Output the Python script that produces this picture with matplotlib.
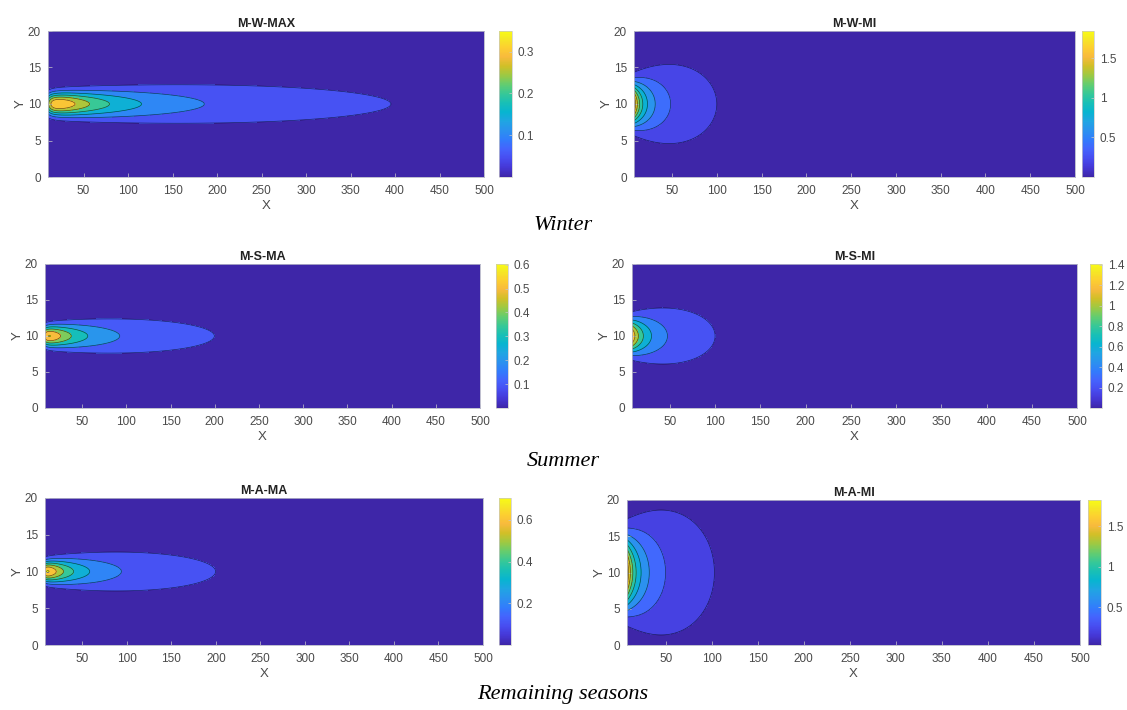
import numpy as np
import matplotlib
matplotlib.use("Agg")
import matplotlib.pyplot as plt
from matplotlib.colors import LinearSegmentedColormap, Normalize
from matplotlib.cm import ScalarMappable
from matplotlib.ticker import FormatStrFormatter

plt.rcParams['font.family'] = ['Liberation Sans', 'DejaVu Sans']

# parula, every 4th entry of the 64 colour table
parula_idx = [0, 4, 8, 12, 16, 20, 24, 28, 32, 36, 40, 44, 48, 52, 56, 60, 63]
parula_rgb = [
    (0.2422, 0.1504, 0.6603), (0.2706, 0.2147, 0.8364), (0.2813, 0.3006, 0.9414),
    (0.2699, 0.3892, 0.9906), (0.1963, 0.4847, 0.9892), (0.1687, 0.5703, 0.9359),
    (0.1248, 0.6459, 0.8883), (0.0297, 0.7082, 0.8163), (0.0964, 0.7500, 0.7120),
    (0.2161, 0.7843, 0.5923), (0.3909, 0.8029, 0.4354), (0.6174, 0.7876, 0.2612),
    (0.8203, 0.7498, 0.1535), (0.9728, 0.7298, 0.2394), (0.9892, 0.8136, 0.1885),
    (0.9597, 0.9135, 0.1423), (0.9769, 0.9839, 0.0805)]
parula = LinearSegmentedColormap.from_list(
    'parula', [(i / 63, c) for i, c in zip(parula_idx, parula_rgb)])

titles = ['M-W-MAX', 'M-W-MI', 'M-S-MA', 'M-S-MI', 'M-A-MA', 'M-A-MI']
captions = ['Winter', 'Summer', 'Remaining seasons']

# plume: centreline k/x*exp(-c/x), crosswind sigma = s0 + s1*x
x_start = [10, 7.5, 8, 8, 8, 8]
plume_k = [20.9, 20.6, 21.3, 21.0, 21.1, 21.2]
plume_c = [22, 3, 13, 5, 11, 3]
sigma0 = [1.0, 1.6, 0.9, 1.375, 0.9, 2.8]
sigma1 = [0.0066, 0.062, 0.012, 0.0406, 0.0143, 0.09]
source_y = 10

levels = [
    [0.05, 0.1, 0.15, 0.2, 0.25, 0.3, 0.35],
    [0.2, 0.4, 0.6, 0.8, 1.0, 1.2, 1.4, 1.6, 1.8],
    [0.1, 0.2, 0.3, 0.4, 0.5, 0.6],
    [0.2, 0.4, 0.6, 0.8, 1.0, 1.2, 1.4],
    [0.1, 0.2, 0.3, 0.4, 0.5, 0.6, 0.7],
    [0.2, 0.4, 0.6, 0.8, 1.0, 1.2, 1.4, 1.6, 1.8],
]
cbar_ticks = [
    [0.1, 0.2, 0.3],
    [0.5, 1, 1.5],
    [0.1, 0.2, 0.3, 0.4, 0.5, 0.6],
    [0.2, 0.4, 0.6, 0.8, 1, 1.2, 1.4],
    [0.2, 0.4, 0.6],
    [0.5, 1, 1.5],
]
x_ticks = [50, 100, 150, 200, 250, 300, 350, 400, 450, 500]
y_ticks = [0, 5, 10, 15, 20]

W, H = 1127, 710
# pixel boxes (left, top, right, bottom)
axes_px = [(48, 31, 484, 177), (634, 31, 1075, 177),
           (45, 264, 480, 408), (632, 264, 1077, 408),
           (45, 498, 483, 645), (627, 500, 1080, 645)]
cbar_px = [(499, 512), (1082, 1094), (496, 508), (1090, 1102), (499, 511), (1088, 1101)]
caption_y = [225, 462, 695]


def rect(l, t, r, b):
    return [l / W, 1 - b / H, (r - l) / W, (b - t) / H]


fig = plt.figure(figsize=(W / 100, H / 100), dpi=100)
gray = '#4a4a4a'

for i in range(6):
    x = np.linspace(x_start[i], 500, 700)
    y = np.linspace(0, 20, 301)
    X, Y = np.meshgrid(x, y)
    sig = sigma0[i] + sigma1[i] * X
    Z = plume_k[i] / X * np.exp(-plume_c[i] / X) * np.exp(-(Y - source_y) ** 2 / (2 * sig ** 2))
    zmin, zmax = Z.min(), Z.max()
    norm = Normalize(zmin, zmax)
    inner = [v for v in levels[i] if zmin < v < zmax]
    lv = [zmin] + inner + [zmax]
    cols = [parula(norm(v)) for v in lv[:-1]]

    l, t, r, b = axes_px[i]
    ax = fig.add_axes(rect(l, t, r, b))
    ax.contourf(X, Y, Z, levels=lv, colors=cols)
    ax.contour(X, Y, Z, levels=inner, colors='k', linewidths=0.5, alpha=0.6)
    ax.set_xlim(x_start[i], 500)
    ax.set_ylim(0, 20)
    ax.set_xticks(x_ticks)
    ax.set_yticks(y_ticks)
    ax.tick_params(direction='in', length=3, width=0.5, color='#c8c8c8',
                   labelcolor=gray, labelsize=8.5)
    ax.tick_params(axis='x', pad=6)
    ax.tick_params(axis='y', pad=5)
    for s in ax.spines.values():
        s.set_color('#b4b4c8')
        s.set_linewidth(0.6)
    ax.set_xlabel('X', color=gray, fontsize=9.5, labelpad=2)
    ax.set_ylabel('Y', color=gray, fontsize=9.5, labelpad=1)
    ax.set_title(titles[i], fontsize=9, fontweight='bold', color='#222222', pad=3)

    c0, c1 = cbar_px[i]
    cax = fig.add_axes(rect(c0, t, c1, b))
    sm = ScalarMappable(norm=norm, cmap=parula)
    cb = fig.colorbar(sm, cax=cax, ticks=cbar_ticks[i], format=FormatStrFormatter('%g'))
    cb.outline.set_edgecolor('#c8c8c8')
    cb.outline.set_linewidth(0.5)
    cax.tick_params(direction='in', length=2, width=0.5, color='#c8c8c8',
                    labelcolor=gray, labelsize=8.5, pad=4)

for k in range(3):
    fig.text(563 / W, 1 - caption_y[k] / H, captions[k], family='Liberation Serif',
             style='italic', fontsize=16, ha='center', va='center')

fig.savefig('out.png', dpi=100)
